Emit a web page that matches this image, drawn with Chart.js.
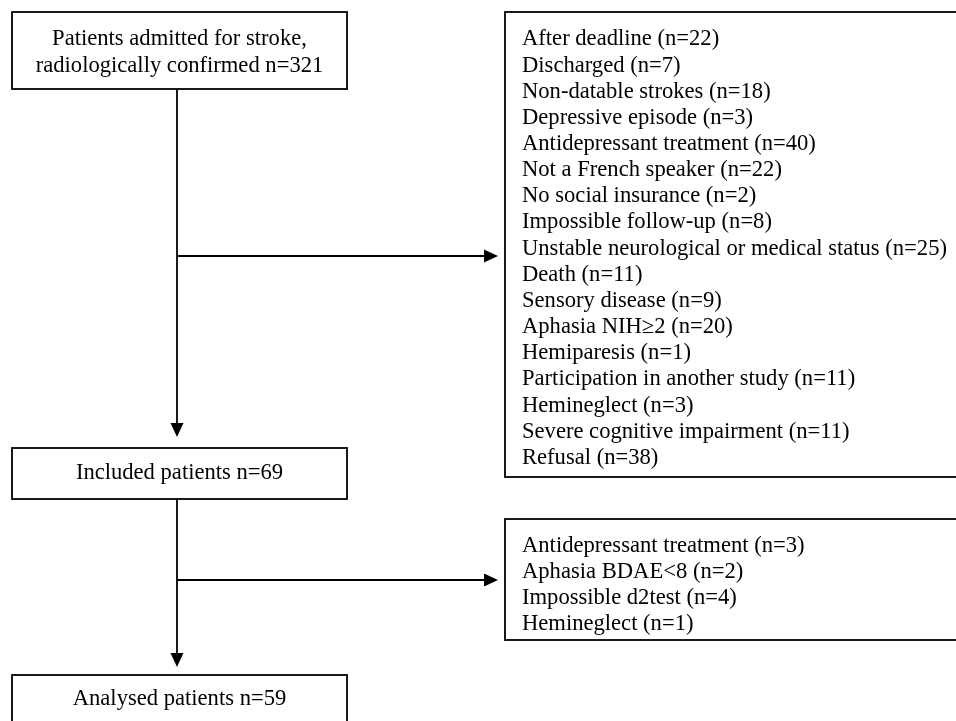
<!DOCTYPE html>
<html>
<head>
<meta charset="utf-8">
<script src="https://cdn.jsdelivr.net/npm/chart.js@4/dist/chart.umd.min.js"></script>
<style>
html,body{margin:0;padding:0;background:#fff;overflow:hidden;}
canvas{display:block;}
</style>
</head>
<body>
<canvas id="c" width="956" height="721"></canvas>
<script>
// ---- Data ----
const admittedLabel = ["Patients admitted for stroke,", "radiologically confirmed"];
const admittedCount = 321;
const includedLabel = "Included patients";
const includedCount = 69;
const analysedLabel = "Analysed patients";
const analysedCount = 59;

const exclusion1Reasons = [
  "After deadline", "Discharged", "Non-datable strokes", "Depressive episode",
  "Antidepressant treatment", "Not a French speaker", "No social insurance",
  "Impossible follow-up", "Unstable neurological or medical status", "Death",
  "Sensory disease", "Aphasia NIH\u22652", "Hemiparesis", "Participation in another study",
  "Hemineglect", "Severe cognitive impairment", "Refusal"
];
const exclusion1Counts = [22, 7, 18, 3, 40, 22, 2, 8, 25, 11, 9, 20, 1, 11, 3, 11, 38];

const exclusion2Reasons = ["Antidepressant treatment", "Aphasia BDAE<8", "Impossible d2test", "Hemineglect"];
const exclusion2Counts = [3, 2, 4, 1];

// ---- Layout (diagram units = pixels of the 956x721 frame) ----
const layout = {
  boxAdmitted: {x0: 12, y0: 12, x1: 347, y1: 89},
  boxIncluded: {x0: 12, y0: 448, x1: 347, y1: 499},
  boxAnalysed: {x0: 12, y0: 675, x1: 347, y1: 740},
  boxExcl1: {x0: 505, y0: 12, x1: 970, y1: 477},
  boxExcl2: {x0: 505, y0: 519, x1: 970, y1: 640},
  trunkX: 177,
  arrow1: {y0: 89, y1: 437},
  branch1: {y: 256, x1: 498},
  arrow2: {y0: 499, y1: 667},
  branch2: {y: 580, x1: 498},
  textDy: 1.5,
  excl1TextX: 522, excl1FirstY: 38, excl1Step: 26.15,
  excl2TextX: 522, excl2FirstY: 545, excl2Step: 25.7
};

const FONT = '22.6px "Liberation Serif", "Times New Roman", serif';

const flowPlugin = {
  id: 'flow',
  afterDraw(chart) {
    const ctx = chart.ctx;
    const xs = chart.scales.x, ys = chart.scales.y;
    const X = v => xs.getPixelForValue(v);
    const Y = v => ys.getPixelForValue(v);
    const T = v => ys.getPixelForValue(v + layout.textDy);
    ctx.save();
    ctx.strokeStyle = '#000';
    ctx.fillStyle = '#000';
    ctx.lineWidth = 1.8;

    function box(b) {
      ctx.strokeRect(X(b.x0), Y(b.y0), X(b.x1) - X(b.x0), Y(b.y1) - Y(b.y0));
    }
    function line(x0, y0, x1, y1) {
      ctx.beginPath(); ctx.moveTo(X(x0), Y(y0)); ctx.lineTo(X(x1), Y(y1)); ctx.stroke();
    }
    function arrowDown(x, y0, y1) {
      line(x, y0, x, y1 - 12);
      ctx.beginPath();
      ctx.moveTo(X(x - 6.5), Y(y1 - 14));
      ctx.lineTo(X(x + 6.5), Y(y1 - 14));
      ctx.lineTo(X(x), Y(y1));
      ctx.closePath(); ctx.fill();
    }
    function arrowRight(y, x0, x1) {
      line(x0, y, x1 - 12, y);
      ctx.beginPath();
      ctx.moveTo(X(x1 - 14), Y(y - 6.5));
      ctx.lineTo(X(x1 - 14), Y(y + 6.5));
      ctx.lineTo(X(x1), Y(y));
      ctx.closePath(); ctx.fill();
    }

    [layout.boxAdmitted, layout.boxIncluded, layout.boxAnalysed, layout.boxExcl1, layout.boxExcl2].forEach(box);
    arrowDown(layout.trunkX, layout.arrow1.y0, layout.arrow1.y1);
    arrowRight(layout.branch1.y, layout.trunkX, layout.branch1.x1);
    arrowDown(layout.trunkX, layout.arrow2.y0, layout.arrow2.y1);
    arrowRight(layout.branch2.y, layout.trunkX, layout.branch2.x1);

    ctx.font = FONT;
    ctx.textBaseline = 'middle';
    ctx.textAlign = 'center';
    const cx = b => (b.x0 + b.x1) / 2;
    ctx.fillText(admittedLabel[0], X(cx(layout.boxAdmitted)), T(38));
    ctx.fillText(admittedLabel[1] + ' n=' + admittedCount, X(cx(layout.boxAdmitted)), T(65));
    ctx.fillText(includedLabel + ' n=' + includedCount, X(cx(layout.boxIncluded)), T(472));
    ctx.fillText(analysedLabel + ' n=' + analysedCount, X(cx(layout.boxIncluded)), T(698));

    ctx.textAlign = 'left';
    exclusion1Reasons.forEach((r, i) => {
      ctx.fillText(r + ' (n=' + exclusion1Counts[i] + ')', X(layout.excl1TextX), T(layout.excl1FirstY + i * layout.excl1Step));
    });
    exclusion2Reasons.forEach((r, i) => {
      ctx.fillText(r + ' (n=' + exclusion2Counts[i] + ')', X(layout.excl2TextX), T(layout.excl2FirstY + i * layout.excl2Step));
    });
    ctx.restore();
  }
};

new Chart(document.getElementById('c'), {
  type: 'scatter',
  data: { datasets: [{ data: [], pointRadius: 0 }] },
  options: {
    responsive: false,
    animation: false,
    events: [],
    layout: { padding: 0 },
    plugins: { legend: { display: false }, tooltip: { enabled: false } },
    scales: {
      x: { type: 'linear', min: 0, max: 956, display: false },
      y: { type: 'linear', min: 0, max: 721, reverse: true, display: false }
    }
  },
  plugins: [flowPlugin]
});
</script>
</body>
</html>
